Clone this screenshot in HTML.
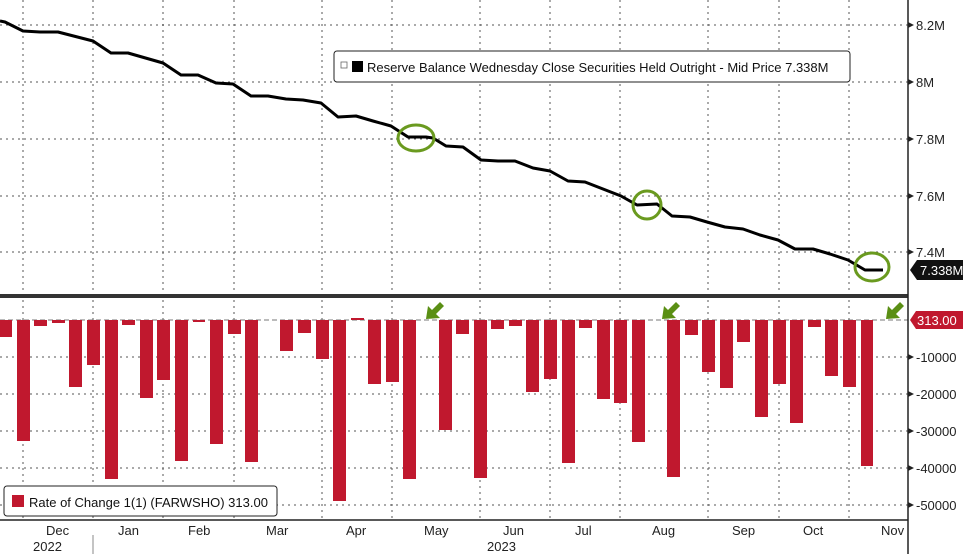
<!DOCTYPE html>
<html><head><style>
body{margin:0;background:#fff;}
svg text{font-family:"Liberation Sans",sans-serif;}
</style></head><body>
<svg width="963" height="554" viewBox="0 0 963 554">
<rect width="963" height="554" fill="#fff"/>
<g stroke="#555" stroke-width="1" stroke-dasharray="2,4">
<line x1="0" y1="25" x2="908" y2="25"/><line x1="0" y1="82" x2="908" y2="82"/><line x1="0" y1="139" x2="908" y2="139"/><line x1="0" y1="196" x2="908" y2="196"/><line x1="0" y1="252" x2="908" y2="252"/>
<line x1="0" y1="357" x2="908" y2="357"/><line x1="0" y1="394" x2="908" y2="394"/><line x1="0" y1="431" x2="908" y2="431"/><line x1="0" y1="468" x2="908" y2="468"/><line x1="0" y1="505" x2="908" y2="505"/>
<line x1="23" y1="0" x2="23" y2="520"/><line x1="93" y1="0" x2="93" y2="520"/><line x1="163" y1="0" x2="163" y2="520"/><line x1="234" y1="0" x2="234" y2="520"/><line x1="322" y1="0" x2="322" y2="520"/><line x1="392" y1="0" x2="392" y2="520"/><line x1="480" y1="0" x2="480" y2="520"/><line x1="550" y1="0" x2="550" y2="520"/><line x1="620" y1="0" x2="620" y2="520"/><line x1="708" y1="0" x2="708" y2="520"/><line x1="779" y1="0" x2="779" y2="520"/><line x1="849" y1="0" x2="849" y2="520"/>
</g>
<line x1="0" y1="320" x2="908" y2="320" stroke="#777" stroke-dasharray="5,3"/>
<polyline fill="none" stroke="#000" stroke-width="3" stroke-linejoin="round" points="0,21 5,22 23,31 40,32 58,32 93,41 111,53 128,53 163,63 181,75 198,75 216,83 233,84 251,96 268,96 286,99 303,100 321,103 338,117 356,116 373,121 391,126 408,137 426,137 433,138 446,146 463,147 481,160 498,161 515,161 533,168 550,171 568,181 585,182 603,189 621,196 637,205 657,204 672,216 690,217 707,222 725,227 743,229 760,235 778,240 795,249 813,249 830,254 848,260 865,270 883,270"/>
<g fill="none" stroke="#6a9a1f" stroke-width="3">
<ellipse cx="416" cy="138" rx="18" ry="13"/><ellipse cx="647" cy="205" rx="14" ry="14"/><ellipse cx="872" cy="267" rx="17" ry="14"/>
</g>
<g fill="#c0182e">
<rect x="0" y="320" width="12" height="17"/><rect x="17" y="320" width="13" height="121"/><rect x="34" y="320" width="13" height="6"/><rect x="52" y="320" width="13" height="3"/><rect x="69" y="320" width="13" height="67"/><rect x="87" y="320" width="13" height="45"/><rect x="105" y="320" width="13" height="159"/><rect x="122" y="320" width="13" height="5"/><rect x="140" y="320" width="13" height="78"/><rect x="157" y="320" width="13" height="60"/><rect x="175" y="320" width="13" height="141"/><rect x="193" y="320" width="12" height="2"/><rect x="210" y="320" width="13" height="124"/><rect x="228" y="320" width="13" height="14"/><rect x="245" y="320" width="13" height="142"/><rect x="280" y="320" width="13" height="31"/><rect x="298" y="320" width="13" height="13"/><rect x="316" y="320" width="13" height="39"/><rect x="333" y="320" width="13" height="181"/><rect x="351" y="318" width="13" height="2"/><rect x="368" y="320" width="13" height="64"/><rect x="386" y="320" width="13" height="62"/><rect x="403" y="320" width="13" height="159"/><rect x="439" y="320" width="13" height="110"/><rect x="456" y="320" width="13" height="14"/><rect x="474" y="320" width="13" height="158"/><rect x="491" y="320" width="13" height="9"/><rect x="509" y="320" width="13" height="6"/><rect x="526" y="320" width="13" height="72"/><rect x="544" y="320" width="13" height="59"/><rect x="562" y="320" width="13" height="143"/><rect x="579" y="320" width="13" height="8"/><rect x="597" y="320" width="13" height="79"/><rect x="614" y="320" width="13" height="83"/><rect x="632" y="320" width="13" height="122"/><rect x="667" y="320" width="13" height="157"/><rect x="685" y="320" width="13" height="15"/><rect x="702" y="320" width="13" height="52"/><rect x="720" y="320" width="13" height="68"/><rect x="737" y="320" width="13" height="22"/><rect x="755" y="320" width="13" height="97"/><rect x="773" y="320" width="13" height="64"/><rect x="790" y="320" width="13" height="103"/><rect x="808" y="320" width="13" height="7"/><rect x="825" y="320" width="13" height="56"/><rect x="843" y="320" width="13" height="67"/><rect x="861" y="320" width="12" height="146"/>
</g>
<g fill="#5a8f14">
<polygon points="426,319 428,306 432,310 440,302 444,306 436,314 440,318"/>
<polygon points="662,319 664,306 668,310 676,302 680,306 672,314 676,318"/>
<polygon points="886,319 888,306 892,310 900,302 904,306 896,314 900,318"/>
</g>
<rect x="0" y="294" width="908" height="4" fill="#333"/>
<line x1="908" y1="0" x2="908" y2="554" stroke="#222" stroke-width="1.5"/>
<line x1="0" y1="520" x2="908" y2="520" stroke="#222" stroke-width="1.5"/>
<line x1="93" y1="535" x2="93" y2="554" stroke="#888"/>
<g font-size="13" fill="#222">
<text x="916" y="30">8.2M</text><text x="916" y="87">8M</text><text x="916" y="144">7.8M</text><text x="916" y="201">7.6M</text><text x="916" y="257">7.4M</text>
<text x="916" y="362">-10000</text><text x="916" y="399">-20000</text><text x="916" y="436">-30000</text><text x="916" y="473">-40000</text><text x="916" y="510">-50000</text>
</g>
<g fill="#222"><polygon points="908,22 914,25 908,28"/><polygon points="908,79 914,82 908,85"/><polygon points="908,136 914,139 908,142"/><polygon points="908,193 914,196 908,199"/><polygon points="908,249 914,252 908,255"/><polygon points="908,354 914,357 908,360"/><polygon points="908,391 914,394 908,397"/><polygon points="908,428 914,431 908,434"/><polygon points="908,465 914,468 908,471"/><polygon points="908,502 914,505 908,508"/></g>
<polygon points="910,270 917,260 963,260 963,280 917,280" fill="#111"/>
<text x="920" y="275" font-size="13" fill="#fff">7.338M</text>
<polygon points="910,320 916,311 963,311 963,329 916,329" fill="#c0182e"/>
<text x="917" y="325" font-size="13" fill="#fff">313.00</text>
<g font-size="13" fill="#222">
<text x="46" y="535">Dec</text><text x="118" y="535">Jan</text><text x="188" y="535">Feb</text><text x="266" y="535">Mar</text><text x="346" y="535">Apr</text><text x="424" y="535">May</text><text x="503" y="535">Jun</text><text x="575" y="535">Jul</text><text x="652" y="535">Aug</text><text x="732" y="535">Sep</text><text x="803" y="535">Oct</text><text x="881" y="535">Nov</text>
<text x="33" y="551">2022</text><text x="487" y="551">2023</text>
</g>
<rect x="334" y="51" width="516" height="31" rx="3" fill="#fff" stroke="#222"/>
<rect x="341" y="62" width="6" height="6" fill="none" stroke="#666" stroke-width="0.8"/>
<rect x="352" y="61" width="11" height="11" fill="#000"/>
<text x="367" y="72" font-size="13" fill="#111">Reserve Balance Wednesday Close Securities Held Outright - Mid Price 7.338M</text>
<rect x="4" y="486" width="273" height="30" rx="3" fill="#fff" stroke="#222"/>
<rect x="12" y="495" width="12" height="12" fill="#c0182e"/>
<text x="29" y="507" font-size="13" fill="#111">Rate of Change 1(1) (FARWSHO) 313.00</text>
</svg>
</body></html>
